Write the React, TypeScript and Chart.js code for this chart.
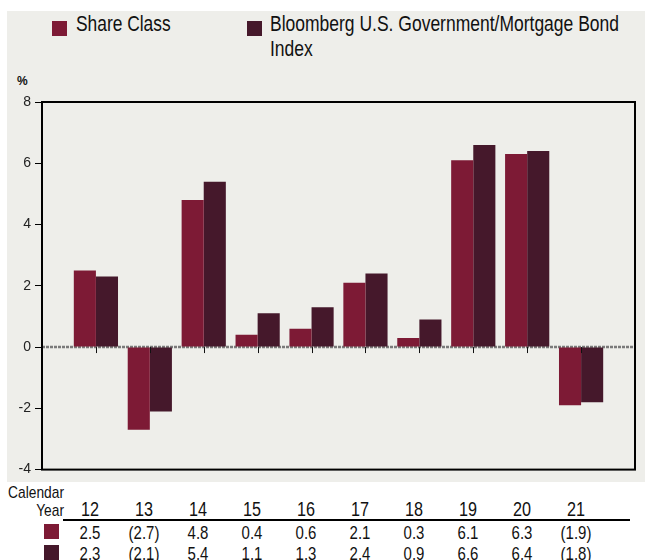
import React, { useEffect, useRef } from 'react';
import { Chart, registerables } from 'chart.js';

Chart.register(...registerables);

const years = ['12', '13', '14', '15', '16', '17', '18', '19', '20', '21'];
const shareClass = [2.5, -2.7, 4.8, 0.4, 0.6, 2.1, 0.3, 6.1, 6.3, -1.9];
const benchmark = [2.3, -2.1, 5.4, 1.1, 1.3, 2.4, 0.9, 6.6, 6.4, -1.8];
const seriesNames = ['Share Class', 'Bloomberg U.S. Government/Mortgage Bond Index'];
const yMin = -4;
const yMax = 8;
const yStep = 2;
const axisUnit = '%';
const tableHeader = ['Calendar', 'Year'];

const COLORS = ['#7d1a35', '#45182b'];
const BG = '#eeeeea';
const FONT = '"Liberation Sans", Arial, sans-serif';
const SQUEEZE = 0.81;

const fmt = (v: number) => (v < 0 ? `(${Math.abs(v).toFixed(1)})` : v.toFixed(1));

const framePlugin = {
  id: 'frame',
  beforeDatasetsDraw(chart: any) {
    const { ctx, chartArea, scales } = chart;
    const y0 = scales.y.getPixelForValue(0);
    ctx.save();
    ctx.strokeStyle = '#7a7a7a';
    ctx.lineWidth = 2.5;
    ctx.setLineDash([3, 1]);
    ctx.beginPath();
    ctx.moveTo(chartArea.left, y0);
    ctx.lineTo(chartArea.right, y0);
    ctx.stroke();
    ctx.restore();
  },
  afterDatasetsDraw(chart: any) {
    const { ctx, chartArea, scales } = chart;
    const y0 = scales.y.getPixelForValue(0);
    ctx.save();
    ctx.strokeStyle = '#111';
    ctx.lineWidth = 1;
    years.forEach((_, i) => {
      const x = Math.round(scales.x.getPixelForValue(i + 1)) + 0.5;
      ctx.beginPath();
      ctx.moveTo(x, y0);
      ctx.lineTo(x, y0 + 6);
      ctx.stroke();
    });
    ctx.lineWidth = 2;
    ctx.strokeStyle = '#000';
    ctx.strokeRect(chartArea.left, chartArea.top, chartArea.right - chartArea.left, chartArea.bottom - chartArea.top);
    ctx.restore();
  },
};

export default function App() {
  const ref = useRef<HTMLCanvasElement>(null);

  useEffect(() => {
    if (!ref.current) return;
    const labels = ['', ...years, ''];
    const chart = new Chart(ref.current, {
      type: 'bar',
      data: {
        labels,
        datasets: [
          {
            label: seriesNames[0],
            data: [null, ...shareClass, null],
            backgroundColor: COLORS[0],
            borderWidth: 0,
          },
          {
            label: seriesNames[1],
            data: [null, ...benchmark, null],
            backgroundColor: COLORS[1],
            borderWidth: 0,
          },
        ],
      },
      options: {
        animation: false,
        responsive: false,
        devicePixelRatio: 1,
        layout: { padding: { top: 102, right: 10, bottom: 12, left: 0 } },
        plugins: { legend: { display: false }, tooltip: { enabled: false } },
        datasets: { bar: { categoryPercentage: 0.82, barPercentage: 1 } },
        scales: {
          x: {
            type: 'category',
            offset: false,
            display: false,
          },
          y: {
            min: yMin,
            max: yMax,
            afterFit: (s: any) => {
              s.width = 42;
            },
            ticks: {
              stepSize: yStep,
              color: '#222',
              padding: 4,
              font: { family: FONT, size: 14 },
            },
            grid: {
              drawOnChartArea: false,
              drawTicks: true,
              tickLength: 7,
              color: '#000',
              lineWidth: 1,
            },
            border: { display: false },
          },
        },
      },
      plugins: [framePlugin],
    });
    return () => chart.destroy();
  }, []);

  const colCenter = (i: number) => 90 + i * 54;
  const cell = (text: string, cx: number, cy: number, size: number, key: string) => (
    <div
      key={key}
      style={{
        position: 'absolute',
        left: cx - 30,
        width: 60,
        top: cy - 11,
        lineHeight: '22px',
        textAlign: 'center',
        fontSize: size,
        color: '#111',
        whiteSpace: 'nowrap',
        transform: `scaleX(${SQUEEZE})`,
        transformOrigin: 'center',
      }}
    >
      {text}
    </div>
  );

  return (
    <div style={{ position: 'absolute', left: 0, top: 0, width: 645, height: 560, background: '#fff', fontFamily: FONT, overflow: 'hidden' }}>
      <div style={{ position: 'absolute', left: 7, top: 11, width: 638, height: 471, background: BG }} />
      {/* legend */}
      <div style={{ position: 'absolute', left: 52, top: 21, width: 15, height: 15, background: COLORS[0] }} />
      <div style={{ position: 'absolute', left: 76, top: 11.2, fontSize: 22, lineHeight: '25px', color: '#111', whiteSpace: 'nowrap', transform: 'scaleX(0.79)', transformOrigin: 'left top' }}>{seriesNames[0]}</div>
      <div style={{ position: 'absolute', left: 247, top: 21, width: 15, height: 15, background: COLORS[1] }} />
      <div style={{ position: 'absolute', left: 270, top: 11.2, width: 450, fontSize: 22, lineHeight: '25px', color: '#111', transform: 'scaleX(0.795)', transformOrigin: 'left top' }}>{seriesNames[1]}</div>
      <div style={{ position: 'absolute', left: 17, top: 74, fontSize: 12, fontWeight: 'bold', color: '#111' }}>{axisUnit}</div>
      <canvas ref={ref} width={645} height={482} style={{ position: 'absolute', left: 0, top: 0, width: 645, height: 482 }} />
      {/* table */}
      <div style={{ position: 'absolute', right: 645 - 64, top: 484, textAlign: 'right', fontSize: 17, lineHeight: '18px', color: '#111', whiteSpace: 'nowrap', transform: `scaleX(${SQUEEZE})`, transformOrigin: 'right top' }}>
        {tableHeader[0]}
        <br />
        {tableHeader[1]}
      </div>
      {years.map((y, i) => cell(y, colCenter(i), 509, 20, 'y' + i))}
      <div style={{ position: 'absolute', left: 63, width: 567, top: 519, height: 2, background: '#000' }} />
      <div style={{ position: 'absolute', left: 44, top: 524, width: 15, height: 15, background: COLORS[0] }} />
      <div style={{ position: 'absolute', left: 44, top: 545, width: 15, height: 15, background: COLORS[1] }} />
      {shareClass.map((v, i) => cell(fmt(v), colCenter(i), 533, 18.5, 's' + i))}
      {benchmark.map((v, i) => cell(fmt(v), colCenter(i), 554, 18.5, 'b' + i))}
    </div>
  );
}
